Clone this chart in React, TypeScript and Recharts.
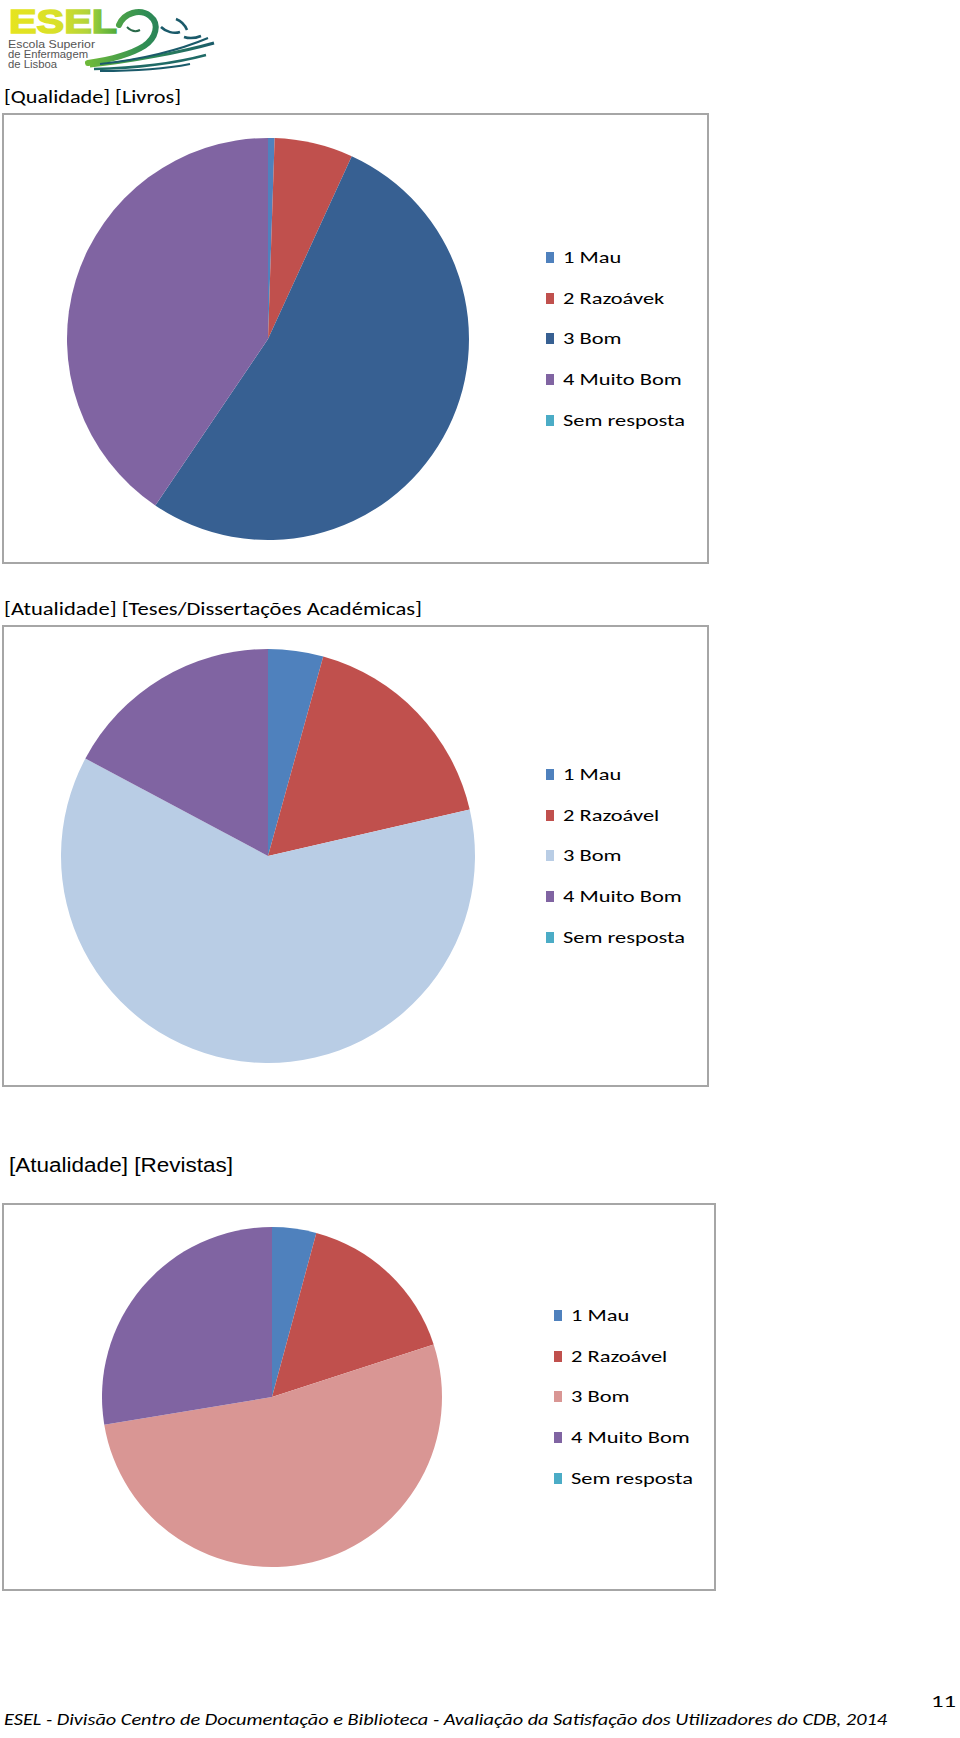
import { PieChart, Pie, Cell, Legend } from 'recharts';

// Category labels (the first chart has the typo from the source)
const livrosNames = ['1 Mau', '2 Razoávek', '3 Bom', '4 Muito Bom', 'Sem resposta'];
const atualidadeNames = ['1 Mau', '2 Razoável', '3 Bom', '4 Muito Bom', 'Sem resposta'];

// Values
const livrosValues = [1, 12, 100, 77, 0];
const tesesValues = [4.3, 17.1, 61.4, 17.2, 0];
const revistasValues = [4.2, 15.8, 52.4, 27.6, 0];

const livrosColors = ['#4F81BD', '#C0504D', '#376092', '#8064A2', '#4BACC6'];
const tesesColors = ['#4F81BD', '#C0504D', '#B9CDE5', '#8064A2', '#4BACC6'];
const revistasColors = ['#4F81BD', '#C0504D', '#D99694', '#8064A2', '#4BACC6'];

const BORDER = 2;
const ROW_GAP = 40.7;
const TEXT_FONT = 'Carlito, Lato, "Open Sans", sans-serif';
const ARIAL = '"Liberation Sans", Arial, sans-serif';

interface PieBlockProps {
  names: string[];
  values: number[];
  colors: string[];
  box: { x: number; y: number; w: number; h: number };
  cx: number;
  cy: number;
  r: number;
  legendX: number;
}

function LegendList({ names, colors }: { names: string[]; colors: string[] }) {
  return (
    <div style={{ fontFamily: TEXT_FONT, fontSize: 17, color: '#000' }}>
      {names.map((name, i) => (
        <div
          key={name}
          style={{ height: ROW_GAP, display: 'flex', alignItems: 'center', whiteSpace: 'nowrap' }}
        >
          <span
            style={{ width: 8, height: 11, background: colors[i], display: 'inline-block', marginRight: 9, flex: 'none' }}
          />
          {/* the legend text in the source is drawn noticeably wide */}
          <span style={{ display: 'inline-block', transform: 'scaleX(1.32)', transformOrigin: 'left center' }}>
            {name}
          </span>
        </div>
      ))}
    </div>
  );
}

function PieBlock({ names, values, colors, box, cx, cy, r, legendX }: PieBlockProps) {
  const data = names.map((name, i) => ({ name, value: values[i] }));
  const ox = box.x + BORDER;
  const oy = box.y + BORDER;
  const w = box.w - BORDER * 2;
  const h = box.h - BORDER * 2;
  const legendTop = cy - oy - (ROW_GAP * names.length) / 2;

  return (
    <div
      style={{
        position: 'absolute',
        left: box.x,
        top: box.y,
        width: box.w,
        height: box.h,
        border: `${BORDER}px solid #a6a6a6`,
        boxSizing: 'border-box',
        background: '#fff'
      }}
    >
      <PieChart width={w} height={h} margin={{ top: 0, right: 0, bottom: 0, left: 0 }}>
        <Pie
          data={data}
          dataKey="value"
          nameKey="name"
          cx={cx - ox}
          cy={cy - oy}
          outerRadius={r}
          startAngle={90}
          endAngle={-270}
          stroke="none"
          isAnimationActive={false}
        >
          {data.map((entry, index) => (
            <Cell key={`cell-${index}`} fill={colors[index]} />
          ))}
        </Pie>
        <Legend
          layout="vertical"
          align="right"
          verticalAlign="middle"
          content={() => <LegendList names={names} colors={colors} />}
          wrapperStyle={{ position: 'absolute', left: legendX - ox, top: legendTop, width: 170 }}
        />
      </PieChart>
    </div>
  );
}

function Logo() {
  return (
    <g>
      <defs>
        <linearGradient id="eselGrad" gradientUnits="userSpaceOnUse" x1="9" y1="0" x2="118" y2="0">
          <stop offset="0%" stopColor="#e6e41f" />
          <stop offset="45%" stopColor="#d8e02a" />
          <stop offset="72%" stopColor="#b3d43a" />
          <stop offset="86%" stopColor="#78bf3c" />
          <stop offset="100%" stopColor="#4fa83a" />
        </linearGradient>
        <linearGradient id="waveGrad" gradientUnits="userSpaceOnUse" x1="90" y1="0" x2="215" y2="0">
          <stop offset="0%" stopColor="#6cb83a" />
          <stop offset="45%" stopColor="#2f8d55" />
          <stop offset="100%" stopColor="#1a5a6a" />
        </linearGradient>
      </defs>
      <text fontFamily={ARIAL}>
        <tspan
          x={9}
          y={33}
          fontWeight="bold"
          fontSize={34}
          fill="url(#eselGrad)"
          stroke="url(#eselGrad)"
          strokeWidth={1.6}
          textLength={108}
          lengthAdjust="spacingAndGlyphs"
        >
          ESEL
        </tspan>
        <tspan x={8} y={48} fontSize={11} fill="#555" textLength={87} lengthAdjust="spacingAndGlyphs">Escola Superior</tspan>
        <tspan x={8} y={58.3} fontSize={11} fill="#555" textLength={80} lengthAdjust="spacingAndGlyphs">de Enfermagem</tspan>
        <tspan x={8} y={68.3} fontSize={11} fill="#555" textLength={49} lengthAdjust="spacingAndGlyphs">de Lisboa</tspan>
      </text>
      <path d="M119,25 C124,13 140,8 150,16 C160,24 156,38 144,46 C128,56 108,60 88,63" fill="none" stroke="url(#waveGrad)" strokeWidth={6} strokeLinecap="round" />
      <path d="M127,27 C131,31 136,32 140,30" fill="none" stroke="#2a6a4a" strokeWidth={2} />
      <path d="M90,66 C130,62 182,52 214,43" fill="none" stroke="url(#waveGrad)" strokeWidth={3} />
      <path d="M94,69 C140,68 180,62 206,55" fill="none" stroke="#1f6a66" strokeWidth={2.5} />
      <path d="M100,71 C140,71 170,68 190,64" fill="none" stroke="#1a5a6a" strokeWidth={2} />
      <path d="M208,38 C180,50 140,60 100,64" fill="none" stroke="#1a5a6a" strokeWidth={2} />
      <path d="M161,27 C166,32 174,34 180,32" fill="none" stroke="#1a5a6a" strokeWidth={2.5} />
      <path d="M184,37 C190,39 196,38 201,36" fill="none" stroke="#1a5a6a" strokeWidth={2.5} />
      <path d="M176,19 C181,21 185,25 187,30" fill="none" stroke="#1a5a6a" strokeWidth={2.5} />
    </g>
  );
}

export default function App() {
  return (
    <div style={{ position: 'absolute', left: 0, top: 0, width: 960, height: 1738, background: '#fff' }}>
      <svg width={960} height={1738} style={{ position: 'absolute', left: 0, top: 0 }}>
        <Logo />
        <text x={4} y={103} fontFamily={TEXT_FONT} fontSize={19} fill="#000" textLength={177} lengthAdjust="spacingAndGlyphs">
          [Qualidade] [Livros]
        </text>
        <text x={4} y={615} fontFamily={TEXT_FONT} fontSize={19} fill="#000" textLength={418} lengthAdjust="spacingAndGlyphs">
          [Atualidade] [Teses/Dissertações Académicas]
        </text>
        <text x={9} y={1172} fontFamily={ARIAL} fontSize={20} fill="#000" textLength={224} lengthAdjust="spacingAndGlyphs">
          [Atualidade] [Revistas]
        </text>
        <text x={931} y={1707} fontFamily={TEXT_FONT} fontSize={17} fill="#000" textLength={25} lengthAdjust="spacingAndGlyphs">
          11
        </text>
        <text x={4} y={1725} fontFamily={TEXT_FONT} fontStyle="italic" fontSize={17} fill="#000" textLength={883} lengthAdjust="spacingAndGlyphs">
          ESEL - Divisão Centro de Documentação e Biblioteca - Avaliação da Satisfação dos Utilizadores do CDB, 2014
        </text>
      </svg>

      <PieBlock
        names={livrosNames}
        values={livrosValues}
        colors={livrosColors}
        box={{ x: 2, y: 113, w: 707, h: 451 }}
        cx={268}
        cy={339}
        r={201}
        legendX={546}
      />
      <PieBlock
        names={atualidadeNames}
        values={tesesValues}
        colors={tesesColors}
        box={{ x: 2, y: 625, w: 707, h: 462 }}
        cx={268}
        cy={856}
        r={207}
        legendX={546}
      />
      <PieBlock
        names={atualidadeNames}
        values={revistasValues}
        colors={revistasColors}
        box={{ x: 2, y: 1203, w: 714, h: 388 }}
        cx={272}
        cy={1397}
        r={170}
        legendX={554}
      />
    </div>
  );
}
